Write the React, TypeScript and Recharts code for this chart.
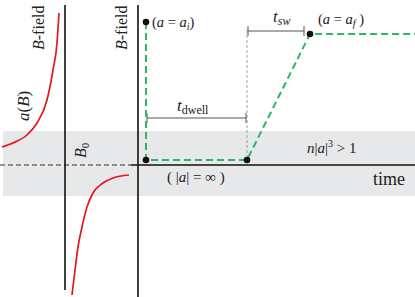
import React from 'react';
import {
  ComposedChart,
  Line,
  Scatter,
  XAxis,
  YAxis,
  ReferenceArea,
  ReferenceLine,
  ReferenceDot,
} from 'recharts';

// a(B) around the Feshbach resonance (left panel)
const aUpperB = [2, 13, 27, 37, 47, 53, 57, 59];
const aUpperA = [147, 143, 135, 123, 100, 70, 43, 13];
const aLowerB = [72, 75, 78, 82, 87, 93, 103, 113, 129];
const aLowerA = [295, 270, 247, 227, 207, 193, 183, 178, 175];

// field protocol vs. time (right panel): a_i -> resonance -> dwell -> sweep -> a_f
const rampTime = [146, 146, 247, 310, 415];
const rampField = [22, 160, 160, 34, 34];
const markedSteps = [0, 1, 2, 3];

const upper = aUpperB.map((x, i) => ({ x, y: aUpperA[i] }));
const lower = aLowerB.map((x, i) => ({ x, y: aLowerA[i] }));
const ramp = rampTime.map((x, i) => ({ x, y: rampField[i] }));
const markers = markedSteps.map((i) => ramp[i]);

const FONT = '"Liberation Serif", "DejaVu Serif", serif';
const INK = '#222';

function Note({ viewBox, size = 14, rotate = false, children }: any) {
  const { x, y } = viewBox;
  return (
    <text
      x={x}
      y={y}
      fontSize={size}
      fontFamily={FONT}
      fill={INK}
      transform={rotate ? `rotate(-90 ${x} ${y})` : undefined}
    >
      {children}
    </text>
  );
}

const I = ({ children }: any) => <tspan fontStyle="italic">{children}</tspan>;

const notes: Array<{ x: number; y: number; size?: number; rotate?: boolean; body: React.ReactNode }> = [
  {
    x: 152, y: 27, size: 14.5,
    body: (<>(<I>a</I> = <I>a</I><tspan fontSize={10} dy={3} fontStyle="italic">i</tspan><tspan dy={-3}>)</tspan></>),
  },
  {
    x: 318, y: 24, size: 14.5,
    body: (<>(<I>a</I> = <I>a</I><tspan fontSize={10} dy={3} fontStyle="italic">f</tspan><tspan dy={-3}> )</tspan></>),
  },
  {
    x: 177, y: 111, size: 17,
    body: (<><I>t</I><tspan fontSize={12} dy={3}>dwell</tspan></>),
  },
  {
    x: 273, y: 22, size: 17,
    body: (<><I>t</I><tspan fontSize={12} dy={3} fontStyle="italic">sw</tspan></>),
  },
  {
    x: 167, y: 182, size: 15,
    body: (<>( |<I>a</I>| = ∞ )</>),
  },
  {
    x: 307, y: 153, size: 15,
    body: (<><I>n</I>|<I>a</I>|<tspan fontSize={10} dy={-6}>3</tspan><tspan dy={6}> &gt; 1</tspan></>),
  },
  { x: 373, y: 185, size: 18, body: 'time' },
  { x: 44, y: 50, size: 16, rotate: true, body: (<><I>B</I>-field</>) },
  { x: 127, y: 50, size: 16, rotate: true, body: (<><I>B</I>-field</>) },
  { x: 29, y: 121, size: 17, rotate: true, body: (<><I>a</I>(<I>B</I>)</>) },
  {
    x: 86, y: 158, size: 16, rotate: true,
    body: (<><I>B</I><tspan fontSize={11} dy={3}>0</tspan></>),
  },
];

const seg = (x1: number, y1: number, x2: number, y2: number) => [
  { x: x1, y: y1 },
  { x: x2, y: y2 },
];

export default function App() {
  return (
    <div style={{ position: 'absolute', left: 0, top: 0, width: 415, height: 297, background: '#fff' }}>
      <ComposedChart width={415} height={297} margin={{ top: 0, right: 0, bottom: 0, left: 0 }}>
        <XAxis type="number" dataKey="x" domain={[0, 415]} allowDataOverflow hide />
        <YAxis type="number" domain={[0, 297]} allowDataOverflow reversed hide />

        {/* unitarity-limited region */}
        <ReferenceArea x1={3} x2={415} y1={131} y2={196} fill="#e7e8ea" fillOpacity={1} stroke="none" />

        <ReferenceLine segment={seg(0, 165, 131, 165)} stroke="#333" strokeDasharray="5 3" strokeWidth={1} />
        <ReferenceLine segment={seg(131, 165, 415, 165)} stroke="#111" strokeWidth={1.5} />
        <ReferenceLine segment={seg(65, 5, 65, 290)} stroke="#111" strokeWidth={1.6} />
        <ReferenceLine segment={seg(138, 5, 138, 297)} stroke="#111" strokeWidth={1.6} />

        {/* dwell / sweep time brackets */}
        <ReferenceLine segment={seg(247, 30, 247, 158)} stroke="#888" strokeDasharray="3 2" strokeWidth={0.8} />
        <ReferenceLine segment={seg(147, 118, 246, 118)} stroke="#555" strokeWidth={1} />
        <ReferenceLine segment={seg(147, 113, 147, 123)} stroke="#555" strokeWidth={1} />
        <ReferenceLine segment={seg(246, 113, 246, 123)} stroke="#555" strokeWidth={1} />
        <ReferenceLine segment={seg(248, 31, 304, 31)} stroke="#555" strokeWidth={1} />
        <ReferenceLine segment={seg(248, 26, 248, 36)} stroke="#555" strokeWidth={1} />
        <ReferenceLine segment={seg(304, 26, 304, 36)} stroke="#555" strokeWidth={1} />

        <Line data={upper} dataKey="y" type="monotone" stroke="#e5171f" strokeWidth={1.7} dot={false} activeDot={false} isAnimationActive={false} />
        <Line data={lower} dataKey="y" type="monotone" stroke="#e5171f" strokeWidth={1.7} dot={false} activeDot={false} isAnimationActive={false} />
        <Line data={ramp} dataKey="y" type="linear" stroke="#2bb66c" strokeWidth={2} strokeDasharray="7 4" dot={false} activeDot={false} isAnimationActive={false} />
        <Scatter
          data={markers}
          dataKey="y"
          isAnimationActive={false}
          shape={(p: any) => <circle cx={p.cx} cy={p.cy} r={3.3} fill="#111" />}
        />

        {notes.map((n, i) => (
          <ReferenceDot
            key={i}
            x={n.x}
            y={n.y}
            r={0}
            fill="none"
            stroke="none"
            ifOverflow="visible"
            label={(p: any) => (
              <Note viewBox={p.viewBox} size={n.size} rotate={n.rotate}>
                {n.body}
              </Note>
            )}
          />
        ))}
      </ComposedChart>
    </div>
  );
}
